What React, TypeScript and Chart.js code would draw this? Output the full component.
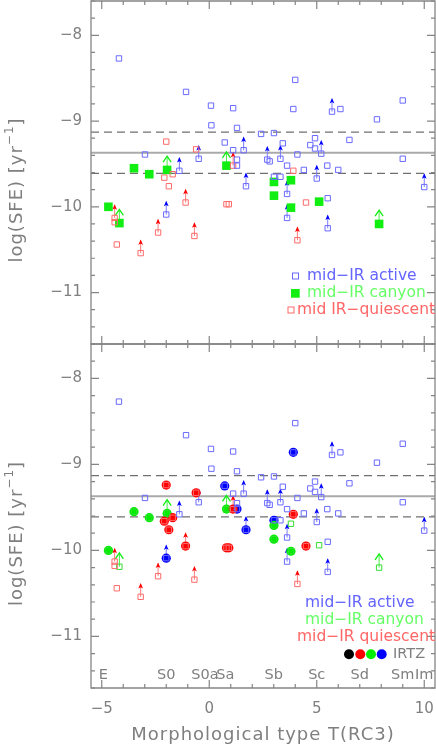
import React, { useEffect, useRef } from "react";
import { Chart, registerables } from "chart.js";

Chart.register(...registerables);

// ---------------- data ----------------
// mid-IR active galaxies (blue hollow squares); lim = lower limit (arrow), irtz = IR transition zone
const activeX = [-4.2, -1.08, 0.08, 0.1, -0.49, -2.99, -1.39, 1.11, 1.29, 0.72, 1.11, 1.6, 1.29, 1.29, 2.41, 3.01, 3.42, 2.7, 2.81, 3.31, 4.0, 3.91, 4.1, 3.62, 3.31, 3.01, 1.71, 4.4, 4.7, 4.92, 4.92, 5.21, 5.0, 5.49, 6.0, 5.71, 6.1, 6.52, 7.8, 9.0, 9.0, 10.0, 3.62, 3.62, 5.51, 5.51, -2.0];
const activeY = [-8.27, -8.66, -8.82, -9.05, -9.44, -9.39, -9.58, -8.85, -9.08, -9.25, -9.34, -9.34, -9.45, -9.52, -9.15, -9.14, -9.26, -9.45, -9.47, -9.44, -8.52, -8.86, -9.39, -9.52, -9.65, -9.65, -9.76, -9.57, -9.28, -9.2, -9.32, -9.38, -9.67, -9.52, -9.57, -8.89, -8.86, -9.22, -8.98, -8.76, -9.44, -9.77, -9.85, -10.13, -9.9, -10.25, -10.09];
const activeLim = [0, 0, 0, 0, 1, 0, 1, 0, 0, 0, 0, 1, 0, 0, 0, 0, 0, 1, 0, 1, 0, 0, 0, 0, 0, 0, 1, 0, 0, 0, 0, 1, 1, 0, 0, 1, 0, 0, 0, 0, 0, 1, 1, 1, 0, 1, 1];
const activeIRTZ = [0, 0, 0, 0, 0, 0, 0, 0, 0, 1, 0, 0, 0, 1, 0, 0, 0, 0, 0, 0, 0, 1, 0, 0, 0, 1, 1, 0, 0, 0, 0, 0, 0, 0, 0, 0, 0, 0, 0, 0, 0, 0, 0, 0, 0, 0, 1];

// mid-IR quiescent galaxies (red hollow squares)
const quiescentX = [-2.0, -0.61, -1.7, -2.09, -1.88, -4.4, -4.4, -4.3, -3.19, -2.38, -1.1, -0.69, 3.91, 0.8, 0.91, 4.5, 4.1, 1.11];
const quiescentY = [-9.24, -9.33, -9.62, -9.66, -9.76, -10.13, -10.18, -10.44, -10.54, -10.3, -9.95, -10.34, -9.58, -9.97, -9.97, -9.95, -10.39, -9.52];
const quiescentLim = [0, 0, 0, 0, 0, 1, 0, 0, 1, 1, 1, 1, 0, 0, 0, 0, 1, 1];
const quiescentIRTZ = [1, 1, 1, 1, 1, 0, 0, 0, 0, 0, 1, 0, 1, 1, 1, 1, 0, 1];

// mid-IR canyon galaxies (green)
const canyonX = [-4.69, -4.18, -3.5, -2.79, -1.96, 0.8, 3.01, 3.01, 3.8, 3.8, 5.11, 7.9];
const canyonY = [-10.0, -10.19, -9.55, -9.62, -9.57, -9.52, -9.71, -9.87, -9.69, -10.01, -9.94, -10.2];
const canyonLim = [0, 1, 0, 0, 1, 1, 0, 0, 0, 0, 0, 1];
const canyonIRTZ = [1, 0, 1, 1, 1, 1, 1, 1, 0, 1, 0, 0];

// reference levels of log(SFE)
const meanLevel = -9.37;
const dispersionLevels = [-9.13, -9.61];

// axes
const xRange = [-5.5, 10.5];
const yRange = [-11.6, -7.6];
const xTickValues = [-5, 0, 5, 10];
const yTickValues = [-11, -10, -9, -8];
const limitArrow = 0.16; // length of lower-limit arrows in dex

// morphological type labels
const morphLabels = ["E", "S0", "S0a", "Sa", "Sb", "Sc", "Sd", "Sm", "Im"];
const morphT = [-4.93, -2.0, -0.2, 0.75, 3.0, 5.0, 7.0, 9.0, 10.0];

// ---------------- style ----------------
const FONT = "'DejaVu Sans', sans-serif";
const GRAY = "#7f7f7f";
const AXIS = "#858585";
const C = {
  blueSq: "#6a6aff",
  blueHead: "#0000ff",
  blueShaft: "#7a7aff",
  redSq: "#ff6a6a",
  redHead: "#ff0000",
  redShaft: "#ff7a7a",
  green: "#11ee11",
  greenShaft: "#44ee44",
  redDot: "#ff0000",
  greenDot: "#00ee00",
  blueDot: "#0000ff",
  blueText: "#6464ff",
  greenText: "#66ff66",
  redText: "#ff6666",
};

type Kind = "blue" | "red" | "green";

function points(xs: number[], ys: number[], mask?: number[], want = 1) {
  const out: { x: number; y: number }[] = [];
  xs.forEach((x, i) => {
    if (!mask || mask[i] === want) out.push({ x, y: ys[i] });
  });
  return out;
}

function fmt(v: number) {
  return v < 0 ? "\u2212" + Math.abs(v) : String(v);
}

function area(chart: any) {
  const xs = chart.scales.x;
  const ys = chart.scales.y;
  return {
    left: xs.getPixelForValue(xRange[0]),
    right: xs.getPixelForValue(xRange[1]),
    top: ys.getPixelForValue(yRange[1]),
    bottom: ys.getPixelForValue(yRange[0]),
  };
}

function drawArrow(ctx: CanvasRenderingContext2D, x: number, y0: number, y1: number, kind: Kind) {
  const shaft = kind === "blue" ? C.blueShaft : kind === "red" ? C.redShaft : C.greenShaft;
  const head = kind === "blue" ? C.blueHead : kind === "red" ? C.redHead : C.green;
  ctx.save();
  ctx.lineWidth = 1;
  ctx.strokeStyle = shaft;
  ctx.beginPath();
  ctx.moveTo(x, y0);
  ctx.lineTo(x, y1 + 1);
  ctx.stroke();
  if (kind === "green") {
    ctx.strokeStyle = head;
    ctx.lineWidth = 1.3;
    ctx.beginPath();
    ctx.moveTo(x - 4, y1 + 6);
    ctx.lineTo(x, y1);
    ctx.lineTo(x + 4, y1 + 6);
    ctx.stroke();
  } else {
    ctx.fillStyle = head;
    ctx.beginPath();
    ctx.moveTo(x, y1);
    ctx.lineTo(x - 2.4, y1 + 5.5);
    ctx.lineTo(x, y1 + 4.2);
    ctx.lineTo(x + 2.4, y1 + 5.5);
    ctx.closePath();
    ctx.fill();
  }
  ctx.restore();
}

function drawSeriesArrows(chart: any, xs: number[], ys: number[], lim: number[], kind: Kind) {
  const { ctx, scales } = chart;
  xs.forEach((x, i) => {
    if (!lim[i]) return;
    const px = scales.x.getPixelForValue(x);
    const py = scales.y.getPixelForValue(ys[i]);
    const tip = scales.y.getPixelForValue(ys[i] + limitArrow);
    drawArrow(ctx, px, py, tip, kind);
  });
}

function yTitle(ctx: CanvasRenderingContext2D, cx: number, cy: number) {
  ctx.save();
  ctx.translate(cx, cy);
  ctx.rotate(-Math.PI / 2);
  ctx.fillStyle = GRAY;
  ctx.textBaseline = "middle";
  ctx.textAlign = "left";
  (ctx as any).letterSpacing = "1px";
  const main = "log(SFE) [yr";
  const sup = "\u22121";
  const end = "]";
  ctx.font = `18px ${FONT}`;
  const w1 = ctx.measureText(main).width;
  const w3 = ctx.measureText(end).width;
  ctx.font = `12px ${FONT}`;
  const w2 = ctx.measureText(sup).width;
  const total = w1 + w2 + w3;
  let x = -total / 2;
  ctx.font = `18px ${FONT}`;
  ctx.fillText(main, x, 0);
  x += w1;
  ctx.font = `12px ${FONT}`;
  ctx.fillText(sup, x, -7);
  x += w2;
  ctx.font = `18px ${FONT}`;
  ctx.fillText(end, x, 0);
  ctx.restore();
}

function drawFrame(chart: any) {
  const { ctx, scales } = chart;
  const a = area(chart);
  const xs = scales.x;
  const ys = scales.y;
  ctx.save();
  ctx.setLineDash([]);
  ctx.strokeStyle = AXIS;
  ctx.lineWidth = 1.3;
  ctx.beginPath();
  ctx.rect(a.left, a.top, a.right - a.left, a.bottom - a.top);
  ctx.stroke();
  ctx.lineWidth = 1.2;
  ctx.beginPath();
  for (let t = Math.ceil(xRange[0]); t <= Math.floor(xRange[1]); t++) {
    const px = xs.getPixelForValue(t);
    const len = t % 5 === 0 ? 8 : 4;
    ctx.moveTo(px, a.bottom);
    ctx.lineTo(px, a.bottom - len);
    ctx.moveTo(px, a.top);
    ctx.lineTo(px, a.top + len);
  }
  for (let k = Math.ceil(yRange[0] * 5); k <= Math.floor(yRange[1] * 5); k++) {
    const py = ys.getPixelForValue(k / 5);
    const len = k % 5 === 0 ? 8 : 4;
    ctx.moveTo(a.left, py);
    ctx.lineTo(a.left + len, py);
    ctx.moveTo(a.right, py);
    ctx.lineTo(a.right - len, py);
  }
  ctx.stroke();
  ctx.restore();
}

function makePlugin(panel: "top" | "bottom") {
  return {
    id: "panel-" + panel,
    beforeDatasetsDraw(chart: any) {
      const { ctx, scales } = chart;
      const a = area(chart);
      const ys = scales.y;
      ctx.save();
      // mean and dispersion levels
      ctx.strokeStyle = "#aaaaaa";
      ctx.lineWidth = 2;
      ctx.beginPath();
      const pm = ys.getPixelForValue(meanLevel);
      ctx.moveTo(a.left, pm);
      ctx.lineTo(a.right, pm);
      ctx.stroke();
      ctx.strokeStyle = "#707070";
      ctx.lineWidth = 1.2;
      ctx.setLineDash([8, 5]);
      dispersionLevels.forEach((v) => {
        const p = ys.getPixelForValue(v);
        ctx.beginPath();
        ctx.moveTo(a.left, p);
        ctx.lineTo(a.right, p);
        ctx.stroke();
      });
      ctx.restore();
      drawSeriesArrows(chart, activeX, activeY, activeLim, "blue");
      drawSeriesArrows(chart, quiescentX, quiescentY, quiescentLim, "red");
      drawSeriesArrows(chart, canyonX, canyonY, canyonLim, "green");
    },
    afterDraw(chart: any) {
      const { ctx, scales } = chart;
      const a = area(chart);
      drawFrame(chart);
      const cy = (a.top + a.bottom) / 2 + 17.5;
      yTitle(ctx, 17, cy);
      ctx.save();
      ctx.textBaseline = "middle";
      ctx.textAlign = "left";
      if (panel === "top") {
        ctx.font = `15.5px ${FONT}`;
        // legend
        ctx.strokeStyle = C.blueSq;
        ctx.lineWidth = 1;
        ctx.strokeRect(292.5, 273, 6, 6);
        ctx.fillStyle = C.blueText;
        ctx.fillText("mid\u2212IR active", 307, 276);
        ctx.fillStyle = C.green;
        ctx.fillRect(291, 289, 8.7, 8.7);
        ctx.fillStyle = C.greenText;
        ctx.fillText("mid\u2212IR canyon", 307, 293.3);
        ctx.strokeStyle = C.redSq;
        ctx.strokeRect(288, 307, 6, 6);
        ctx.fillStyle = C.redText;
        ctx.fillText("mid IR\u2212quiescent", 297, 310);
      } else {
        const off = 342;
        ctx.font = `15.5px ${FONT}`;
        ctx.fillStyle = C.blueText;
        ctx.fillText("mid\u2212IR active", 305, 602.7 - off);
        ctx.fillStyle = C.greenText;
        ctx.fillText("mid\u2212IR canyon", 305, 620 - off);
        ctx.fillStyle = C.redText;
        ctx.fillText("mid\u2212IR quiescent", 297, 637.3 - off);
        const dots = ["#000000", C.redDot, C.greenDot, C.blueDot];
        const dx = [349, 360.3, 371, 381.7];
        dots.forEach((c, i) => {
          ctx.fillStyle = c;
          ctx.beginPath();
          ctx.arc(dx[i], 654.3 - off, 5, 0, Math.PI * 2);
          ctx.fill();
        });
        ctx.fillStyle = GRAY;
        ctx.font = `14.5px ${FONT}`;
        ctx.fillText("IRTZ", 393, 654.3 - off);
        // morphological type labels
        ctx.textAlign = "center";
        morphLabels.forEach((lab, i) => {
          ctx.fillText(lab, scales.x.getPixelForValue(morphT[i]), 675 - off);
        });
        // x title
        ctx.font = `18px ${FONT}`;
        (ctx as any).letterSpacing = "1px";
        ctx.fillText("Morphological type T(RC3)", (a.left + a.right) / 2, 735 - off);
      }
      ctx.restore();
    },
  };
}

function noPad(s: any) {
  s.paddingTop = 0;
  s.paddingBottom = 0;
  s.paddingLeft = 0;
  s.paddingRight = 0;
}

function options(panel: "top" | "bottom") {
  return {
    animation: false as const,
    responsive: false,
    maintainAspectRatio: false,
    events: [] as any[],
    layout: {
      autoPadding: false,
      padding: panel === "top" ? { left: 0, right: 1, top: 1, bottom: 2 } : { left: 0, right: 1, top: 2, bottom: 0 },
    },
    plugins: { legend: { display: false }, tooltip: { enabled: false } },
    scales: {
      x: {
        type: "linear" as const,
        min: xRange[0],
        max: xRange[1],
        display: panel === "bottom",
        afterFit: (s: any) => {
          s.height = panel === "bottom" ? 57 : 0;
          noPad(s);
        },
        afterBuildTicks: (s: any) => {
          s.ticks = xTickValues.map((v) => ({ value: v }));
        },
        grid: { display: false, drawTicks: false },
        border: { display: false },
        ticks: {
          color: GRAY,
          font: { family: FONT, size: 15 },
          padding: 12,
          maxRotation: 0,
          autoSkip: false,
          callback: (v: any) => fmt(Number(v)),
        },
      },
      y: {
        type: "linear" as const,
        min: yRange[0],
        max: yRange[1],
        afterFit: (s: any) => {
          s.width = 91;
          noPad(s);
        },
        afterBuildTicks: (s: any) => {
          s.ticks = yTickValues.map((v) => ({ value: v }));
        },
        grid: { display: false, drawTicks: false },
        border: { display: false },
        ticks: {
          color: GRAY,
          font: { family: FONT, size: 15 },
          padding: 9,
          autoSkip: false,
          callback: (v: any) => fmt(Number(v)),
        },
      },
    },
  };
}

const squareBase = { pointStyle: "rect", pointRadius: 3.8, borderWidth: 1, backgroundColor: "rgba(0,0,0,0)", showLine: false };

function topDatasets() {
  return [
    { ...squareBase, label: "mid-IR active", data: points(activeX, activeY), borderColor: C.blueSq },
    { ...squareBase, label: "mid IR-quiescent", data: points(quiescentX, quiescentY), borderColor: C.redSq },
    {
      label: "mid-IR canyon",
      data: points(canyonX, canyonY),
      pointStyle: "rect",
      pointRadius: 6.1,
      borderWidth: 0,
      backgroundColor: C.green,
      borderColor: C.green,
      showLine: false,
    },
  ];
}

function bottomDatasets() {
  const dot = (label: string, data: any[], color: string) => ({
    label,
    data,
    pointStyle: "circle",
    pointRadius: 4.6,
    borderWidth: 0,
    backgroundColor: color,
    borderColor: color,
    showLine: false,
  });
  return [
    { ...squareBase, label: "mid-IR active", data: points(activeX, activeY), borderColor: C.blueSq },
    { ...squareBase, label: "mid-IR quiescent", data: points(quiescentX, quiescentY), borderColor: C.redSq },
    { ...squareBase, label: "mid-IR canyon", data: points(canyonX, canyonY), borderColor: "#33dd33" },
    dot("IRTZ quiescent", points(quiescentX, quiescentY, quiescentIRTZ), C.redDot),
    dot("IRTZ canyon", points(canyonX, canyonY, canyonIRTZ), C.greenDot),
    dot("IRTZ active", points(activeX, activeY, activeIRTZ), C.blueDot),
  ];
}

export default function App() {
  const topRef = useRef<HTMLCanvasElement>(null);
  const botRef = useRef<HTMLCanvasElement>(null);

  useEffect(() => {
    const c1 = new Chart(topRef.current as HTMLCanvasElement, {
      type: "scatter",
      data: { datasets: topDatasets() as any },
      options: options("top") as any,
      plugins: [makePlugin("top")],
    });
    const c2 = new Chart(botRef.current as HTMLCanvasElement, {
      type: "scatter",
      data: { datasets: bottomDatasets() as any },
      options: options("bottom") as any,
      plugins: [makePlugin("bottom")],
    });
    return () => {
      c1.destroy();
      c2.destroy();
    };
  }, []);

  return (
    <div style={{ position: "absolute", left: 0, top: 0, width: 436, height: 745, background: "#ffffff" }}>
      <canvas ref={topRef} width={436} height={346} style={{ position: "absolute", left: 0, top: 0, width: 436, height: 346 }} />
      <canvas ref={botRef} width={436} height={403} style={{ position: "absolute", left: 0, top: 342, width: 436, height: 403 }} />
    </div>
  );
}
